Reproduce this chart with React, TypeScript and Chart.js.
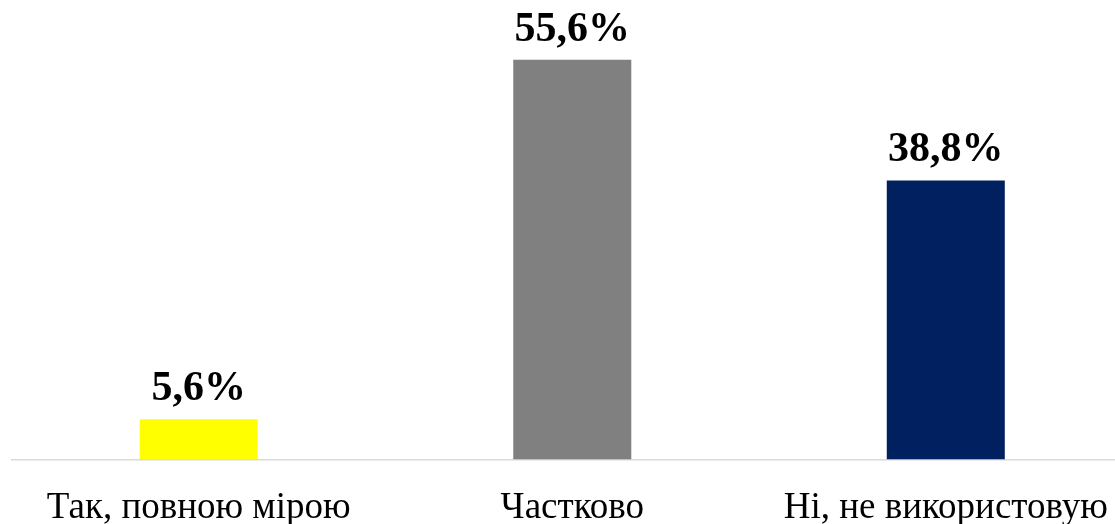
import React, { useEffect, useRef } from "react";
import { Chart, registerables } from "chart.js";

Chart.register(...registerables);

const categories = ["Так, повною мірою", "Частково", "Ні, не використовую"];
const values = [5.6, 55.6, 38.8];
const valueLabels = ["5,6%", "55,6%", "38,8%"];
const barColors = ["#FFFF00", "#808080", "#002060"];

const dataLabelPlugin = {
  id: "dataLabels",
  afterDatasetsDraw(chart: any) {
    const ctx = chart.ctx;
    const meta = chart.getDatasetMeta(0);
    ctx.save();
    ctx.font = "bold 42px 'Liberation Serif', 'Times New Roman', serif";
    ctx.fillStyle = "#000000";
    ctx.textAlign = "center";
    ctx.textBaseline = "alphabetic";
    meta.data.forEach((bar: any, i: number) => {
      ctx.fillText(valueLabels[i], bar.x, bar.y - 19);
    });
    ctx.restore();
  },
};

export default function App() {
  const ref = useRef<HTMLCanvasElement | null>(null);
  useEffect(() => {
    if (!ref.current) return;
    const chart = new Chart(ref.current, {
      type: "bar",
      data: {
        labels: categories,
        datasets: [
          {
            data: values,
            backgroundColor: barColors,
            borderWidth: 0,
            categoryPercentage: 1,
            barPercentage: 0.316,
          },
        ],
      },
      options: {
        responsive: false,
        animation: false,
        layout: { padding: { left: 12, right: 1, top: 28, bottom: 0 } },
        plugins: {
          legend: { display: false },
          tooltip: { enabled: false },
        },
        scales: {
          x: {
            grid: { display: false, drawTicks: false },
            border: { display: true, color: "#D9D9D9", width: 1.5 },
            ticks: {
              color: "#000000",
              padding: 26,
              maxRotation: 0,
              autoSkip: false,
              font: { family: "'Liberation Serif', 'Times New Roman', serif", size: 37 },
            },
          },
          y: {
            display: false,
            min: 0,
            max: 60,
          },
        },
      },
      plugins: [dataLabelPlugin],
    });
    return () => chart.destroy();
  }, []);
  return (
    <div
      style={{
        position: "fixed",
        left: 0,
        top: 0,
        width: 1115,
        height: 524,
        overflow: "hidden",
        background: "#ffffff",
      }}
    >
      <canvas ref={ref} width={1134} height={556} style={{ display: "block" }} />
    </div>
  );
}
